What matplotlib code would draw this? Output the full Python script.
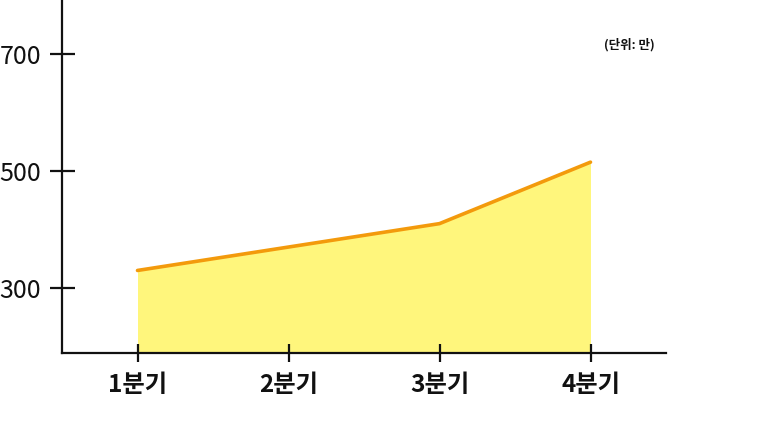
import matplotlib
matplotlib.use("Agg")
import matplotlib.pyplot as plt

plt.rcParams['font.family'] = ['Noto Sans CJK KR', 'DejaVu Sans']

quarters = ['1분기', '2분기', '3분기', '4분기']
values = [330, 370, 410, 515]
yticks = [300, 500, 700]

fig = plt.figure(figsize=(7.68, 4.26), dpi=100)
ax = fig.add_axes([62 / 768, 73 / 426, (666 - 62) / 768, 353 / 426])

x = list(range(len(quarters)))
ax.fill_between(x, values, 189, color='#FFF67C', linewidth=0, zorder=1)
ax.plot(x, values, color='#F39A0C', linewidth=2.6, solid_capstyle='round', zorder=3)

ax.set_xlim(-0.5, 3.5)
ax.set_ylim(189, 792)
ax.set_xticks(x)
ax.set_xticklabels(quarters, fontsize=17.5, fontweight='bold')
ax.set_yticks(yticks)
ax.set_yticklabels([str(v) for v in yticks], fontsize=18)

for s in ['top', 'right']:
    ax.spines[s].set_visible(False)
for s in ['left', 'bottom']:
    ax.spines[s].set_linewidth(1.6)
    ax.spines[s].set_color('#111111')
    ax.spines[s].set_zorder(4)

ax.tick_params(axis='y', direction='inout', length=18, width=1.6, pad=6, colors='#111111')
ax.tick_params(axis='x', direction='inout', length=13, width=1.6, pad=8, colors='#111111')

fig.text(655 / 768, 1 - 45 / 426, '(단위: 만)', fontsize=9, fontweight='bold',
         ha='right', va='center', color='#111111')

fig.savefig('out.png', dpi=100)
